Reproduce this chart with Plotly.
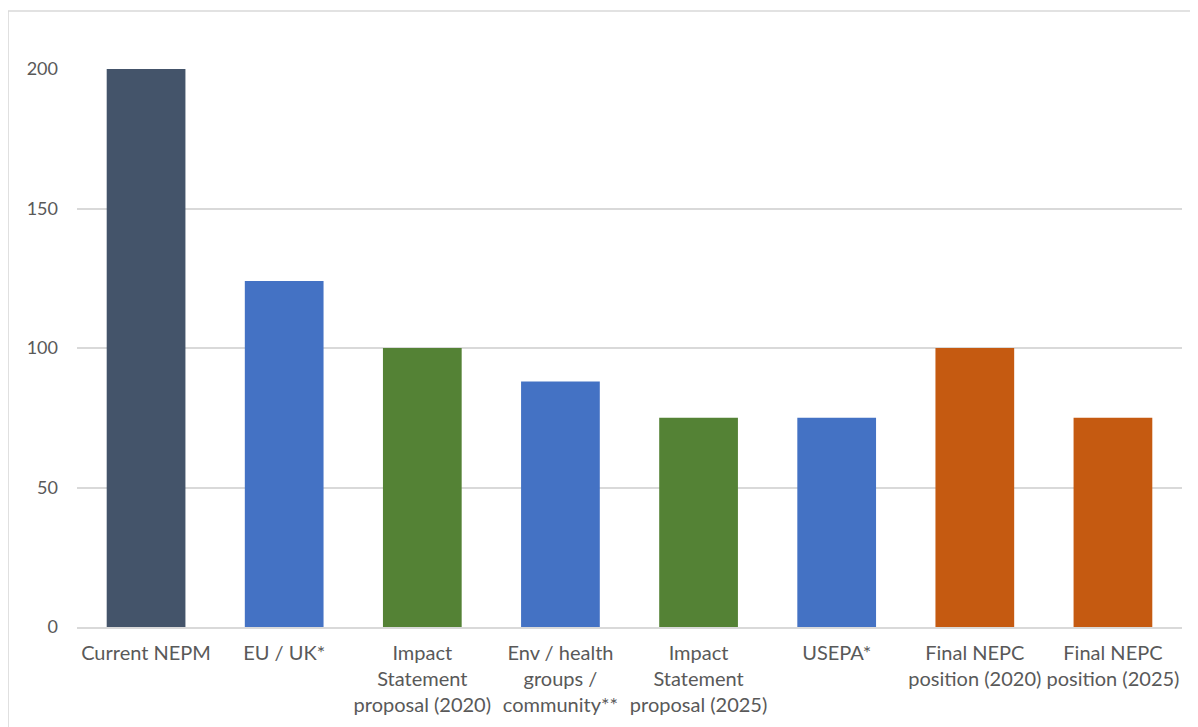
import plotly.graph_objects as go

categories = [
    "Current NEPM",
    "EU / UK*",
    "Impact<br>Statement<br>proposal (2020)",
    "Env / health<br>groups /<br>community**",
    "Impact<br>Statement<br>proposal (2025)",
    "USEPA*",
    "Final NEPC<br>position (2020)",
    "Final NEPC<br>position (2025)",
]
values = [200, 124, 100, 88, 75, 75, 100, 75]
bar_colors = ["#44546A", "#4472C4", "#548235", "#4472C4", "#548235", "#4472C4", "#C55A11", "#C55A11"]
y_ticks = [0, 50, 100, 150, 200]

fig = go.Figure(
    go.Bar(
        x=categories,
        y=values,
        marker=dict(color=bar_colors, line=dict(width=0)),
        width=0.57,
        hoverinfo="x+y",
    )
)

fig.update_layout(
    width=1198,
    height=727,
    paper_bgcolor="white",
    plot_bgcolor="white",
    margin=dict(l=69, r=24, t=61, b=108),
    font=dict(family="Lato", size=19, color="#595959"),
    showlegend=False,
    xaxis=dict(
        showgrid=False,
        showline=True,
        linecolor="#d9d9d9",
        linewidth=1.5,
        ticks="",
        tickangle=0,
        automargin=False,
        ticklabelstandoff=7,
        tickfont=dict(size=20, color="#595959"),
    ),
    yaxis=dict(
        range=[0, 200],
        tickvals=y_ticks,
        showgrid=True,
        gridcolor="#d9d9d9",
        gridwidth=1.5,
        zeroline=False,
        showline=False,
        ticks="",
        ticklabelstandoff=18,
        automargin=False,
        tickfont=dict(size=18, color="#595959"),
    ),
    shapes=[
        dict(
            type="rect",
            xref="paper",
            yref="paper",
            x0=-0.0624,
            x1=1.2,
            y0=-0.5,
            y1=1.104,
            line=dict(color="#d9d9d9", width=1.5),
            fillcolor="rgba(0,0,0,0)",
            layer="below",
        )
    ],
)

fig.write_html("out.html")
